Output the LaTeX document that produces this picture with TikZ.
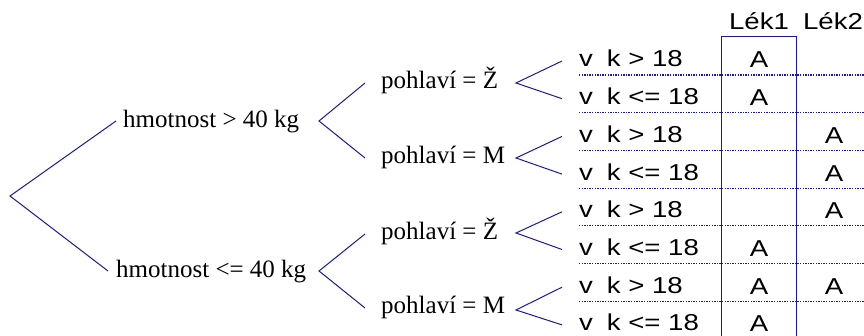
\documentclass[tikz,border=0pt]{standalone}
\usepackage{fontspec}
\setmainfont{Liberation Serif}
\newfontfamily\sansf{Liberation Sans}
\usepackage{graphicx}
\definecolor{treeblue}{RGB}{25,25,160}
\newcommand{\widetxt}[1]{\scalebox{1.2}[1]{#1}}
\tikzset{
  branch/.style={draw=treeblue, line width=1pt},
  rowsep/.style={draw=treeblue, line width=1.1pt, dash pattern=on 1.3pt off 1.3pt},
  tabline/.style={draw=treeblue, line width=1pt},
  serlabel/.style={font=\fontsize{25}{27}\selectfont, anchor=base west, inner sep=0pt},
  rowlabel/.style={font=\sansf\fontsize{23}{25}\selectfont, anchor=base west, inner sep=0pt},
  cell/.style={font=\sansf\fontsize{23}{25}\selectfont, anchor=base, inner sep=0pt},
}
\begin{document}
\begin{tikzpicture}[x=1pt,y=-1pt]
\useasboundingbox (0,0) rectangle (864,336);

% level 1
\coordinate (root) at (10,196);
\node[serlabel] (h1) at (123,128) {hmotnost > 40 kg};
\node[serlabel] (h2) at (116,278) {hmotnost <= 40 kg};
\coordinate (h1in) at (116,121);
\coordinate (h2in) at (108,271);
\draw[branch] (h1in) -- (root) -- (h2in);

% level 2
\coordinate (h1out) at (319,121);
\coordinate (h2out) at (319,271);
\node[serlabel] (p1) at (381,89) {pohlaví = Ž};
\node[serlabel] (p2) at (381,164) {pohlaví = M};
\node[serlabel] (p3) at (381,240) {pohlaví = Ž};
\node[serlabel] (p4) at (381,314) {pohlaví = M};
\coordinate (p1in) at (365,83);
\coordinate (p2in) at (365,158);
\coordinate (p3in) at (365,234);
\coordinate (p4in) at (365,308);
\draw[branch] (p1in) -- (h1out) -- (p2in);
\draw[branch] (p3in) -- (h2out) -- (p4in);

% level 3 tips
\coordinate (p1out) at (516,83);
\coordinate (p2out) at (516,158);
\coordinate (p3out) at (516,233);
\coordinate (p4out) at (516,310);

% rows
\foreach \i/\t in {0/{> 18},1/{<= 18},2/{> 18},3/{<= 18},4/{> 18},5/{<= 18},6/{> 18},7/{<= 18}}{
  \node[rowlabel] (r\i) at (579,{67+37.7*\i}) {\widetxt{v\hspace{0.5em}k \t}};
  \coordinate (r\i in) at (562,{61+37.7*\i});
}
\draw[branch] (r0in) -- (p1out) -- (r1in);
\draw[branch] (r2in) -- (p2out) -- (r3in);
\draw[branch] (r4in) -- (p3out) -- (r5in);
\draw[branch] (r6in) -- (p4out) -- (r7in);

% dotted separators
\foreach \i in {0,...,6}{
  \coordinate (dl\i) at (579,{75+37.7*\i});
  \coordinate (dr\i) at (864,{75+37.7*\i});
  \draw[rowsep] (dl\i) -- (dr\i);
}

% table
\coordinate (tl) at (721,37);
\coordinate (tr) at (796,37);
\coordinate (bl) at (721,336);
\coordinate (br) at (796,336);
\draw[tabline] (bl) -- (tl) -- (tr) -- (br);
\node[cell] (hd1) at (759,30) {\widetxt{Lék1}};
\node[cell] (hd2) at (833,30) {\widetxt{Lék2}};

% cells
\foreach \i/\c in {0/759,1/759,2/834,3/834,4/834,5/759,6/759,6/834,7/759}{
  \node[cell] (a\i-\c) at (\c,{68+37.7*\i}) {\widetxt{A}};
}
\end{tikzpicture}
\end{document}
